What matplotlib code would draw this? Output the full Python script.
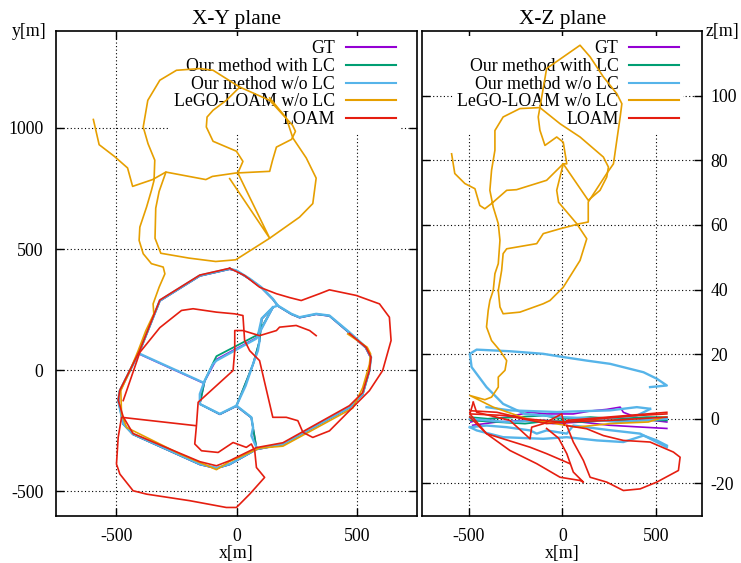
import matplotlib
matplotlib.use('Agg')
import matplotlib.pyplot as plt
from matplotlib.lines import Line2D

plt.rcParams['font.family'] = ['Liberation Serif', 'DejaVu Serif']
plt.rcParams['font.size'] = 12.8
plt.rcParams['axes.unicode_minus'] = False

LABELS = ['GT', 'Our method with LC', 'Our method w/o LC', 'LeGO-LOAM w/o LC', 'LOAM']
COLORS = ['#9400d3', '#009e73', '#56b4e9', '#e69f00', '#e51e10']
X_TICKS = [-500, 0, 500]
Y_TICKS = [-500, 0, 500, 1000]
Z_TICKS = [-20, 0, 20, 40, 60, 80, 100]

# ---- X-Y plane, each trajectory is a list of polylines (x, y) in metres ----
GT_XY = [
    [(-29, 417), (-153, 389), (-319, 286), (-402, 79), (-485, -86), (-490, -127), (-470, -223),
     (-430, -265), (-153, -389), (-84, -405), (-29, -389), (82, -327), (192, -306), (468, -155),
     (523, -100), (551, -3), (556, 52), (535, 93), (466, 155), (385, 224), (330, 231), (261, 217),
     (227, 231), (171, 265), (150, 293), (102, 341), (54, 376), (-1, 410), (-29, 417)],
    [(150, 258), (82, 134), (-84, 45), (-133, -45), (-153, -139), (-70, -182), (-1, -148),
     (61, -196), (68, -238), (82, -320)],
    [(-1, -148), (68, 24), (95, 121), (104, 212), (150, 258)],
    [(-402, 66), (-140, -52)],
]
LC_XY = [
    [(-29, 418), (-153, 390), (-319, 287), (-402, 80), (-486, -85), (-491, -126), (-471, -222),
     (-431, -264), (-153, -388), (-84, -404), (-29, -388), (82, -326), (192, -305), (468, -154),
     (523, -99), (551, -2), (557, 53), (536, 94), (467, 156), (385, 225), (330, 232), (261, 218),
     (227, 232), (171, 266), (150, 294), (102, 342), (54, 377), (-1, 411), (-29, 418)],
    [(150, 259), (86, 146), (-84, 58), (-98, 30), (-133, -44), (-153, -139), (-70, -181),
     (-1, -147), (61, -195), (68, -237), (82, -319)],
    [(-1, -147), (68, 25), (95, 122), (104, 213), (150, 259)],
]
WO_XY = [
    [(-29, 419), (-153, 391), (-319, 288), (-402, 81), (-485, -84), (-492, -125), (-471, -221),
     (-430, -263), (-153, -387), (-84, -403), (-29, -387), (82, -325), (192, -304), (468, -153),
     (523, -98), (551, -1), (558, 54), (537, 95), (468, 157), (385, 226), (330, 233), (261, 219),
     (227, 233), (171, 267), (150, 295), (102, 343), (54, 378), (-1, 412), (-29, 419)],
    [(150, 260), (82, 131), (-84, 40), (-98, 26), (-133, -43), (-153, -98), (-153, -139),
     (-70, -180), (-1, -146), (61, -194), (68, -236), (61, -270), (82, -318)],
    [(-1, -146), (37, -64), (68, 26), (88, 81), (95, 123), (91, 156), (104, 214), (150, 260),
     (171, 267)],
    [(-402, 68), (-140, -50)],
]
LEGO_XY = [
    [(-595, 1035), (-571, 931), (-508, 883), (-453, 835), (-432, 759), (-349, 787), (-294, 818),
     (-128, 787), (-101, 800), (-4, 814), (137, 821), (149, 867), (165, 921), (228, 953),
     (244, 986), (232, 1011), (137, 1114), (12, 1169), (-98, 1238), (-153, 1245), (-250, 1238),
     (-319, 1197), (-369, 1114), (-388, 1004), (-368, 935), (-340, 867), (-343, 784), (-354, 742),
     (-374, 674), (-402, 591), (-405, 536), (-388, 481), (-354, 440), (-305, 426), (-298, 398),
     (-322, 343), (-347, 274), (-344, 233), (-377, 164), (-409, 81), (-443, -1), (-481, -84),
     (-478, -180), (-457, -236), (-236, -345), (-84, -410), (-29, -376), (95, -321), (192, -313),
     (482, -156), (523, -72), (551, 24), (556, 68), (542, 95), (461, 150)],
    [(-294, 817), (-322, 738), (-336, 669), (-339, 545), (-315, 483), (-198, 463), (-87, 449),
     (-4, 456), (137, 545), (261, 632), (316, 688), (330, 793), (289, 876), (233, 959),
     (206, 1041), (137, 1124)],
    [(-29, 791), (137, 545), (5, 814)],
    [(5, 814), (26, 862), (-1, 904), (-98, 945), (-126, 1004), (-123, 1045), (-98, 1073),
     (-43, 1114), (12, 1168)],
]
LOAM_XY = [
    [(-29, 421), (-153, 393), (-319, 290), (-402, 83), (-443, 1), (-485, -82), (-492, -123),
     (-471, -192), (-430, -261), (-153, -377), (-84, -394), (-29, -373), (82, -319), (192, -299),
     (468, -146), (523, -92), (551, -1), (558, 54), (537, 95), (468, 152)],
    [(-471, -125), (-402, 74), (-319, 176), (-229, 247), (-181, 254), (-84, 240), (-8, 233),
     (26, 226), (33, 123), (54, 81), (95, 40), (150, -194), (206, -194), (254, -208), (275, -256),
     (316, -277), (385, -250), (496, -139), (551, -84), (606, -1), (641, 123), (634, 219),
     (593, 274), (496, 309), (385, 332), (344, 316), (268, 288), (220, 300), (165, 316),
     (95, 343), (33, 391), (-29, 421)],
    [(330, 143), (303, 164), (247, 185), (178, 178), (165, 164), (95, 143), (26, 164), (-8, 164),
     (-8, 81), (-15, -1), (-160, -132), (-167, -228), (-174, -304), (-146, -332), (-77, -339),
     (-15, -298), (40, -318), (61, -304), (75, -332), (82, -401), (116, -442), (54, -511),
     (-1, -566), (-43, -566), (-195, -538), (-374, -511), (-430, -497), (-485, -428),
     (-499, -387), (-492, -277), (-478, -194), (-174, -228)],
]

# ---- X-Z plane, polylines (x, z) in metres ----
GT_XZ = [
    [(-490, -1), (-459, -0.5), (-300, 0.5), (-173, 2), (-84, 1.5), (24, 1.5), (59, 1.5),
     (149, 2.4), (238, 2.9), (310, 3.6), (327, 2), (417, 0), (560, -1)],
    [(-480, -2), (-350, -1), (-200, -0.5), (-50, -1.5), (100, -1), (250, -2), (400, -2.5),
     (560, -3)],
]
LC_XZ = [
    [(-495, 0.5), (-400, 0), (-250, 0.5), (-100, 1), (0, 0), (150, 0.5), (300, 0), (450, 0.5),
     (560, 0.5)],
    [(-490, -0.5), (-350, -1), (-200, -1.5), (-50, -0.5), (100, -1), (250, -0.5), (400, -0.5),
     (560, -0.5)],
]
WO_XZ = [
    [(470, 9.8), (560, 10.3), (506, 12.4), (435, 14.4), (256, 17), (131, 18), (5, 19.1),
     (-102, 20.1), (-281, 20.9), (-459, 21.4), (-495, 20.1), (-486, 16), (-406, 9.8),
     (-317, 4.6), (-200, 1.5), (0, 0.5), (200, 0), (400, 1), (470, 3)],
    [(-406, 3.6), (-281, 2.6), (-30, 2.1), (256, 2.6), (399, 3.6), (470, 3.1)],
    [(-495, -2.6), (-459, -3.6), (-317, -5.7), (-102, -6.2), (24, -5.7), (185, -6.7),
     (327, -7.2), (435, -5.2), (506, -6.7), (560, -8.3)],
    [(-495, -2.6), (-406, -2.1), (-298, -2.6), (-173, -3.6), (-137, -4.6), (-84, -3.6),
     (24, -4.6), (59, -2.1), (250, -3.5), (417, -4.6), (560, -8.8)],
    [(-495, 0), (-300, -1), (-100, -0.5), (0, -1), (100, 0), (300, -1), (560, 0)],
]
LEGO_XZ = [
    [(-593, 82), (-576, 75.9), (-522, 72.8), (-468, 71.2), (-442, 66), (-415, 65), (-379, 66.6),
     (-298, 70.7), (-245, 70.9), (-84, 73.8), (5, 78.9), (139, 67.6), (202, 70.7), (238, 74.8),
     (247, 77.9), (220, 81), (95, 87.2), (-12, 91.3), (-120, 96.3), (-227, 96), (-317, 93.4),
     (-361, 89.2), (-361, 83.1), (-379, 76.9), (-388, 70.7), (-370, 65.5), (-343, 60.4),
     (-334, 55.2), (-343, 48), (-361, 44.9), (-370, 39.7), (-388, 36.6), (-397, 33.5),
     (-406, 28.4), (-379, 24.2), (-334, 21.1), (-298, 18), (-307, 15), (-343, 12.9),
     (-343, 9.8), (-379, 6.7), (-415, 5.9), (-495, 7.2), (-370, 3.6), (-191, 0), (77, -2.6),
     (256, -1.5), (461, -1), (542, 0.5)],
    [(-120, 96.3), (-84, 108.4), (95, 115.6), (149, 112), (220, 105.8), (292, 100.6),
     (319, 97.5), (310, 93.4), (292, 86.2), (274, 78.9), (238, 75.9), (139, 67.1), (139, 60.9),
     (95, 60.4), (-12, 58.8), (-102, 57.3), (-137, 54.2), (-298, 52.6), (-317, 51.1),
     (-325, 45.9), (-343, 39.7)],
    [(5, 78.9), (-30, 70.7), (-20, 67), (77, 60.4), (131, 55.7), (95, 49), (5, 40.7),
     (-66, 36.6), (-102, 35.6), (-227, 33), (-317, 32.5), (-334, 34.6), (-343, 39.7)],
    [(-120, 96.3), (-129, 93.4), (-120, 89.3), (-93, 84.6), (-30, 87.2), (5, 85.6), (24, 78.9),
     (5, 78.9)],
]
LOAM_XZ = [
    [(-477, 5.1), (-495, 1.5), (-406, -4.6), (-281, -9.8), (-137, -13.9), (-12, -18.1),
     (95, -19.1), (113, -19.6), (59, -16.5), (24, -10.8), (-20, -6), (-84, -3)],
    [(-495, 0.5), (-406, -4.6), (-173, -8.8), (-84, -10.8), (41, -13.9)],
    [(24, -2.1), (59, -7.2), (113, -12.9), (149, -18.1), (238, -19.6), (327, -22.2),
     (417, -21.7), (506, -19.6), (622, -16), (631, -11.9), (595, -10.3), (470, -7.2),
     (327, -6.7), (220, -5.2), (131, -3.1), (24, -2.1)],
    [(-477, 5.1), (-459, 2), (-281, -0.5), (-173, -6.2), (-164, -2.6), (-100, -1.5), (-3, 1.5),
     (10, -2), (24, -0.5), (560, 2)],
    [(-495, 1.5), (-300, 1), (-84, -1.5), (200, 0), (400, 1), (560, 1.5)],
    [(-495, 2.5), (-350, 2), (-200, 0), (0, -1), (250, -0.5), (560, 0.5)],
]

XY_DATA = [GT_XY, LC_XY, WO_XY, LEGO_XY, LOAM_XY]
XZ_DATA = [GT_XZ, LC_XZ, WO_XZ, LEGO_XZ, LOAM_XZ]
WIDTHS = [1.2, 1.3, 1.7, 1.2, 1.2]


def draw(ax, segs, color, lw):
    for seg in segs:
        xs = [p[0] for p in seg]
        ys = [p[1] for p in seg]
        ax.plot(xs, ys, color=color, lw=lw, solid_joinstyle='round', zorder=2)


def style(ax, title, anchor):
    ax.set_axisbelow(True)
    ax.grid(True, color='black', linestyle=(0, (1, 2.2)), linewidth=0.8)
    ax.tick_params(direction='in', top=True, right=True, length=6, width=1, pad=9)
    for s in ax.spines.values():
        s.set_linewidth(1.2)
    ax.set_title(title, pad=5)
    ax.set_xlim(-750, 750)
    ax.set_xticks(X_TICKS)
    ax.set_xlabel('x[m]', labelpad=0)
    handles = [Line2D([], [], color=c, lw=1.5) for c in COLORS]
    leg = ax.legend(handles, LABELS, loc='upper right', bbox_to_anchor=anchor,
                    markerfirst=False, frameon=True, fancybox=False, edgecolor='none',
                    facecolor='white', framealpha=1, handlelength=2.8, handletextpad=0.6,
                    labelspacing=0.04, borderaxespad=0.0, borderpad=0.25)
    leg.set_zorder(1.5)


fig = plt.figure(figsize=(7.41, 5.63), dpi=100)
ax1 = fig.add_axes([0.0756, 0.0840, 0.4876, 0.8609])
ax2 = fig.add_axes([0.5699, 0.0840, 0.3779, 0.8609])

for segs, c, w in zip(XY_DATA, COLORS, WIDTHS):
    draw(ax1, segs, c, w)
for segs, c, w in zip(XZ_DATA, COLORS, WIDTHS):
    draw(ax2, segs, c, w)

style(ax1, 'X-Y plane', (0.952, 0.990))
ax1.set_ylim(-600, 1400)
ax1.set_yticks(Y_TICKS)
ax1.text(-0.073, 1.0, 'y[m]', transform=ax1.transAxes, ha='center', va='center')

style(ax2, 'X-Z plane', (0.932, 0.990))
ax2.set_ylim(-30, 120)
ax2.set_yticks(Z_TICKS)
ax2.tick_params(labelleft=False, labelright=True, pad=6)
ax2.tick_params(axis='x', pad=9)
ax2.text(1.072, 1.0, 'z[m]', transform=ax2.transAxes, ha='center', va='center')

fig.savefig('out.png', dpi=100)
plt.close('all')
